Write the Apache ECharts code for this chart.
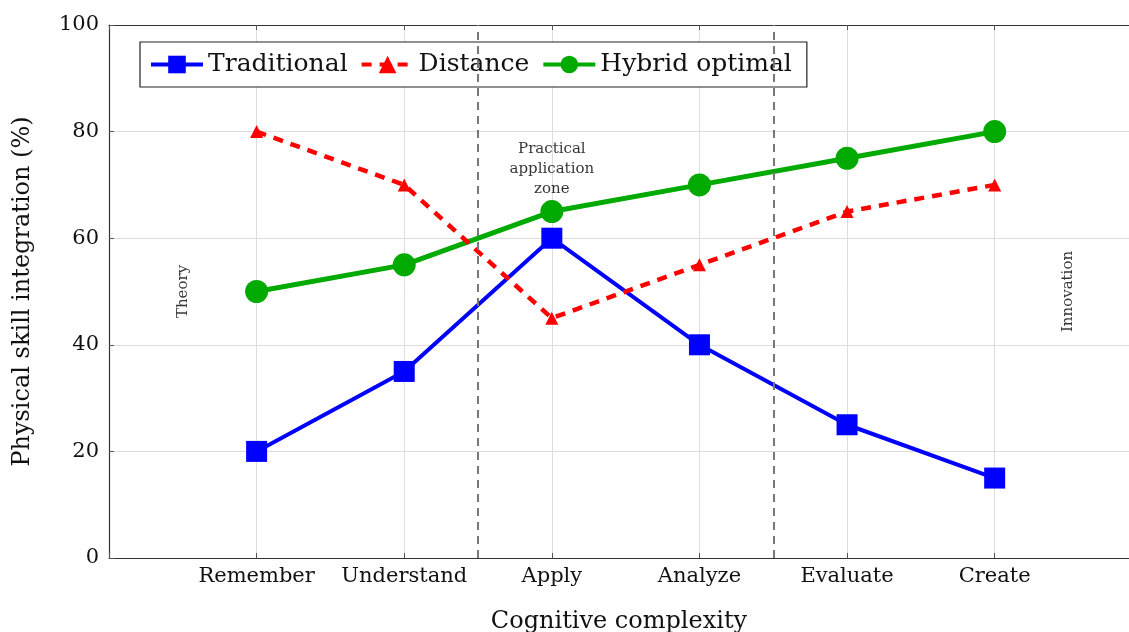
<!DOCTYPE html>
<html>
<head>
<meta charset="utf-8">
<script src="https://cdn.jsdelivr.net/npm/echarts@6/dist/echarts.min.js"></script>
<style>
  html, body { margin: 0; padding: 0; background: #fff; }
  #chart { width: 1129px; height: 632px; }
</style>
</head>
<body>
<div id="chart"></div>
<script>
const FONT = '"DejaVu Serif", "Liberation Serif", serif'

const categories = ['Remember', 'Understand', 'Apply', 'Analyze', 'Evaluate', 'Create']
const traditional = [20, 35, 60, 40, 25, 15]
const distance = [80, 70, 45, 55, 65, 70]
const hybrid = [50, 55, 65, 70, 75, 80]
const zoneBounds = [2.5, 4.5]
const notes = [
  { x: 0.5, y: 50, text: 'Theory', rotate: 90 },
  { x: 3, y: 73, text: 'Practical\napplication\nzone', rotate: 0 },
  { x: 6.5, y: 50, text: 'Innovation', rotate: 90 },
]

const pts = (arr) => arr.map((v, i) => [i + 1, v])

const chart = echarts.init(document.getElementById('chart'))

// plot runs past the right edge of the picture, so no right border
const X_MAX = 6.91

const option = {
  animation: false,
  textStyle: { fontFamily: FONT },
  grid: { left: 109, top: 25, right: 0, bottom: 74, outerBoundsMode: 'none' },
  legend: {
    left: 140, top: 42,
    itemWidth: 52, itemHeight: 22, itemGap: 12,
    padding: [10, 15, 10, 9],
    borderColor: '#222', borderWidth: 1.2,
    backgroundColor: '#fff',
    lineStyle: { width: 4 },
    textStyle: { fontFamily: FONT, fontSize: 25, color: '#111' },
    data: ['Traditional', 'Distance', 'Hybrid optimal'],
  },
  xAxis: [
    {
      type: 'value', min: 0, max: X_MAX, interval: 1,
      name: 'Cognitive complexity', nameLocation: 'middle', nameGap: 52,
      nameTextStyle: { fontFamily: FONT, fontSize: 24, color: '#111' },
      axisLine: { lineStyle: { color: '#333', width: 1.2 } },
      axisTick: { inside: true, length: 5, lineStyle: { color: '#555' } },
      axisLabel: {
        fontFamily: FONT, fontSize: 21, color: '#111', margin: 8,
        showMaxLabel: false,
        formatter: (v) => categories[v - 1] || '',
      },
      splitLine: { show: true, showMaxLine: false, lineStyle: { color: '#ddd', width: 1 } },
    },
    {
      type: 'value', position: 'top', min: 0, max: X_MAX, interval: 1,
      axisLine: { lineStyle: { color: '#333', width: 1.2 } },
      axisTick: { inside: true, length: 5, lineStyle: { color: '#555' } },
      axisLabel: { show: false },
      splitLine: { show: false },
    },
  ],
  yAxis: {
    type: 'value', min: 0, max: 100, interval: 20,
    name: 'Physical skill integration (%)', nameLocation: 'middle', nameGap: 74,
    nameTextStyle: { fontFamily: FONT, fontSize: 24, color: '#111' },
    axisLine: { show: true, lineStyle: { color: '#333', width: 1.2 } },
    axisTick: { show: true, inside: true, length: 5, lineStyle: { color: '#555' } },
    axisLabel: { fontFamily: FONT, fontSize: 21, color: '#111', margin: 10 },
    splitLine: { show: true, lineStyle: { color: '#ddd', width: 1 } },
  },
  series: [
    {
      name: 'Traditional', type: 'line', data: pts(traditional),
      symbol: 'rect', symbolSize: 21,
      lineStyle: { color: '#0000ff', width: 4 },
      itemStyle: { color: '#0000ff' },
      z: 3,
      markLine: {
        silent: true, symbol: 'none', label: { show: false },
        lineStyle: { color: '#777', type: [8, 6], width: 2 },
        data: zoneBounds.map((x) => ({ xAxis: x })),
      },
    },
    {
      name: 'Distance', type: 'line', data: pts(distance),
      symbol: 'triangle', symbolSize: 13,
      lineStyle: { color: '#ff0000', width: 4.5, type: [10, 8] },
      itemStyle: { color: '#ff0000' },
      z: 4,
    },
    {
      name: 'Hybrid optimal', type: 'line', data: pts(hybrid),
      symbol: 'circle', symbolSize: 23,
      lineStyle: { color: '#00aa00', width: 5 },
      itemStyle: { color: '#00aa00' },
      z: 2,
    },
    {
      type: 'scatter', symbol: 'circle', symbolSize: 1, silent: true,
      itemStyle: { color: 'rgba(0,0,0,0)' },
      data: notes.map((n) => ({
        value: [n.x, n.y],
        label: { rotate: n.rotate },
      })),
      label: {
        show: true, position: 'inside',
        fontFamily: FONT, fontSize: 15, color: '#000', lineHeight: 20,
        formatter: (p) => notes[p.dataIndex].text,
      },
      z: 5,
    },
  ],
}

chart.setOption(option)
</script>
</body>
</html>
